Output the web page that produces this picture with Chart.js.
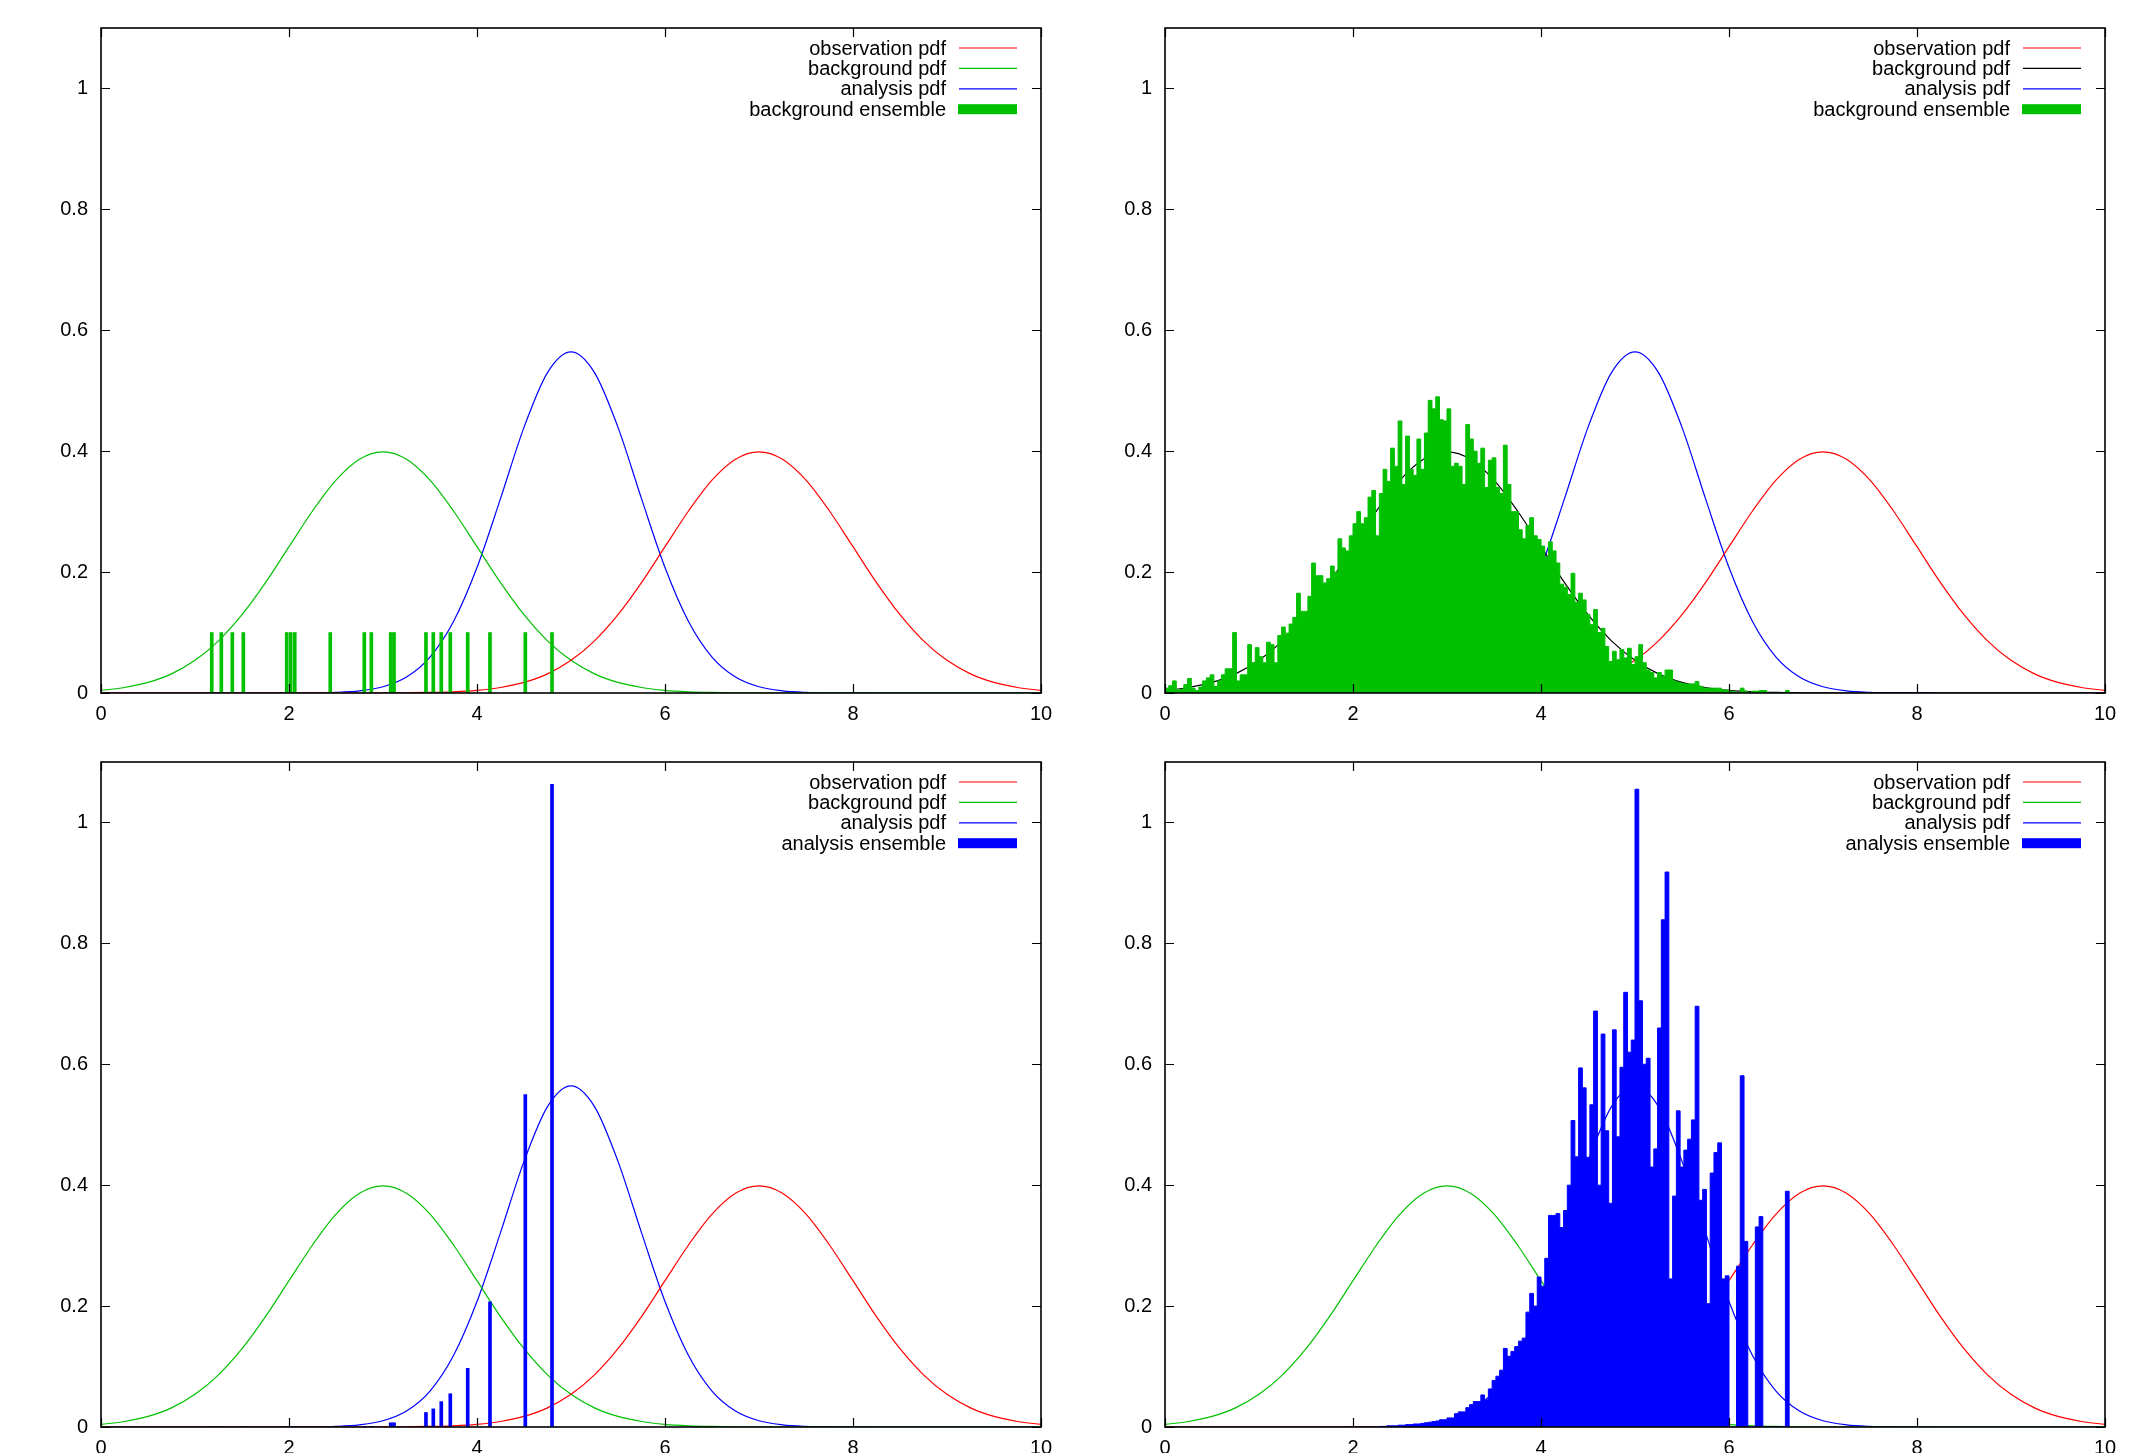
<!DOCTYPE html>
<html>
<head>
<meta charset="utf-8">
<title>Particle filter: background and analysis ensembles</title>
<script src="https://cdn.jsdelivr.net/npm/chart.js@4.4.1/dist/chart.umd.min.js"></script>
<style>
    html, body { margin: 0; padding: 0; background: #fff; overflow: hidden; }
    body { width: 2139px; height: 1453px; position: relative; }
    canvas { position: absolute; }
</style>
</head>
<body>
<canvas id="bgFew" width="1069" height="730" style="left:0;top:0"></canvas>
<canvas id="bgMany" width="1069" height="730" style="left:1064px;top:0"></canvas>
<canvas id="anaFew" width="1069" height="730" style="left:0;top:734px"></canvas>
<canvas id="anaMany" width="1069" height="730" style="left:1064px;top:734px"></canvas>
<script>
// Sample grid for the three pdf curves
const pdfX = [0, 0.25, 0.5, 0.75, 1, 1.25, 1.5, 1.75, 2, 2.25, 2.5, 2.75, 3, 3.25, 3.5, 3.75, 4,
    4.25, 4.5, 4.75, 5, 5.25, 5.5, 5.75, 6, 6.25, 6.5, 6.75, 7, 7.25, 7.5, 7.75, 8,
    8.25, 8.5, 8.75, 9, 9.25, 9.5, 9.75, 10];

const observationPdf = [0, 0, 0, 0, 0, 0, 0, 0, 0, 0, 0, 0,
    0.0001, 0.0004, 0.0009, 0.0020, 0.0044, 0.0091, 0.0175, 0.0317, 0.0540, 0.0863, 0.1295, 0.1826,
    0.2420, 0.3011, 0.3521, 0.3867, 0.3989, 0.3867, 0.3521, 0.3011, 0.2420, 0.1826, 0.1295, 0.0863,
    0.0540, 0.0317, 0.0175, 0.0091, 0.0044];

const backgroundPdf = [0.0044, 0.0091, 0.0175, 0.0317, 0.0540, 0.0863, 0.1295, 0.1826, 0.2420,
    0.3011, 0.3521, 0.3867, 0.3989, 0.3867, 0.3521, 0.3011, 0.2420, 0.1826, 0.1295, 0.0863, 0.0540,
    0.0317, 0.0175, 0.0091, 0.0044, 0.0020, 0.0009, 0.0004, 0.0001,
    0, 0, 0, 0, 0, 0, 0, 0, 0, 0, 0, 0];

const analysisPdf = [0, 0, 0, 0, 0, 0, 0, 0,
    0.0001, 0.0003, 0.0011, 0.0036, 0.0103, 0.0264, 0.0595, 0.1183, 0.2076, 0.3215, 0.4394, 0.5300,
    0.5642, 0.5300, 0.4394, 0.3215, 0.2076, 0.1183, 0.0595, 0.0264, 0.0103, 0.0036, 0.0011, 0.0003,
    0.0001, 0, 0, 0, 0, 0, 0, 0, 0];

// Small ensemble: member positions, prior weights and posterior weights
const memberX = [1.178, 1.280, 1.397, 1.514, 1.976, 2.018, 2.061, 2.439, 2.801, 2.876,
    3.082, 3.117, 3.457, 3.535, 3.620, 3.716, 3.901, 4.138, 4.514, 4.798];
const memberPrior = [0.1, 0.1, 0.1, 0.1, 0.1, 0.1, 0.1, 0.1, 0.1, 0.1,
    0.1, 0.1, 0.1, 0.1, 0.1, 0.1, 0.1, 0.1, 0.1, 0.1];
const memberPosterior = [0, 0, 0, 0, 0, 0, 0, 0, 0.001, 0.001,
    0.007, 0.007, 0.024, 0.030, 0.042, 0.055, 0.097, 0.207, 0.550, 1.063];

// Large ensemble histograms (bin width 0.04)
const histWidth = 0.04;
const bgHistStart = 0;
const bgHist = [
    0.008, 0.012, 0.020, 0.005, 0.006, 0.014, 0.024, 0.008, 0.004, 0.010,
    0.020, 0.025, 0.030, 0.011, 0.020, 0.030, 0.040, 0.040, 0.100, 0.020,
    0.030, 0.030, 0.080, 0.050, 0.075, 0.060, 0.050, 0.084, 0.080, 0.050,
    0.095, 0.109, 0.099, 0.114, 0.125, 0.165, 0.135, 0.135, 0.160, 0.215,
    0.194, 0.194, 0.182, 0.189, 0.210, 0.200, 0.255, 0.240, 0.235, 0.260,
    0.280, 0.300, 0.280, 0.290, 0.324, 0.335, 0.260, 0.330, 0.370, 0.350,
    0.405, 0.375, 0.450, 0.345, 0.425, 0.370, 0.360, 0.420, 0.370, 0.430,
    0.484, 0.470, 0.490, 0.452, 0.450, 0.470, 0.375, 0.380, 0.375, 0.345,
    0.444, 0.420, 0.400, 0.380, 0.405, 0.340, 0.385, 0.389, 0.340, 0.330,
    0.410, 0.345, 0.300, 0.300, 0.270, 0.255, 0.277, 0.290, 0.260, 0.254,
    0.243, 0.225, 0.250, 0.235, 0.215, 0.180, 0.175, 0.163, 0.198, 0.150,
    0.165, 0.154, 0.130, 0.113, 0.138, 0.100, 0.107, 0.077, 0.052, 0.069,
    0.055, 0.072, 0.058, 0.074, 0.047, 0.060, 0.080, 0.050, 0.038, 0.034,
    0.025, 0.034, 0.028, 0.038, 0.038, 0.020, 0.018, 0.016, 0.015, 0.015,
    0.015, 0.019, 0.011, 0.008, 0.008, 0.008, 0.008, 0.008, 0.005, 0.005,
    0.003, 0.002, 0.000, 0.008, 0.003, 0.000, 0.003, 0.003, 0.004, 0.004,
    0, 0, 0, 0, 0, 0.004
];

const anaHistStart = 2.28;
const anaHist = [
    0.001, 0.001, 0.002, 0.002, 0.002, 0.003, 0.003, 0.004, 0.004, 0.005,
    0.005, 0.006, 0.007, 0.008, 0.009, 0.010, 0.012, 0.012, 0.015, 0.015,
    0.022, 0.025, 0.025, 0.032, 0.037, 0.042, 0.042, 0.053, 0.045, 0.063,
    0.077, 0.084, 0.094, 0.130, 0.117, 0.125, 0.133, 0.142, 0.147, 0.190,
    0.221, 0.200, 0.248, 0.233, 0.279, 0.350, 0.350, 0.353, 0.330, 0.358,
    0.400, 0.507, 0.447, 0.594, 0.561, 0.446, 0.533, 0.688, 0.400, 0.650,
    0.490, 0.370, 0.657, 0.480, 0.595, 0.719, 0.620, 0.640, 1.055, 0.705,
    0.600, 0.610, 0.430, 0.460, 0.660, 0.839, 0.918, 0.245, 0.382, 0.523,
    0.430, 0.458, 0.476, 0.508, 0.696, 0.375, 0.393, 0.204, 0.420, 0.454,
    0.470, 0.245, 0.250, 0, 0, 0.266, 0.581, 0.307, 0, 0,
    0.331, 0.348, 0, 0, 0, 0, 0, 0, 0.390
];

const xTicks = { min: 0, max: 10, step: 2 };
const yTicks = { min: 0, max: 1.1, step: 0.2 };

const RED = '#ff0000';
const GREEN = '#00c000';
const BLUE = '#0000ff';
const BLACK = '#000000';
const FONT = '"Liberation Sans", Arial, sans-serif';
const FONT_SIZE = 20;

class PanelManager {
    constructor() {
        this.charts = {};
    }

    /**
     * Frame with inward ticks on all four sides, plus the key in the top right corner
     */
    framePlugin(keyItems) {
        return {
            id: 'gnuFrame',
            afterDraw(chart) {
                const { ctx, chartArea: a, scales } = chart;
                const tick = 9;
                ctx.save();
                ctx.strokeStyle = '#000';
                ctx.lineWidth = 1.2;
                ctx.beginPath();
                scales.x.ticks.forEach(t => {
                    const px = Math.round(scales.x.getPixelForValue(t.value)) + 0.5;
                    ctx.moveTo(px, a.bottom); ctx.lineTo(px, a.bottom - tick);
                    ctx.moveTo(px, a.top); ctx.lineTo(px, a.top + tick);
                });
                scales.y.ticks.forEach(t => {
                    const py = Math.round(scales.y.getPixelForValue(t.value)) + 0.5;
                    ctx.moveTo(a.left, py); ctx.lineTo(a.left + tick, py);
                    ctx.moveTo(a.right, py); ctx.lineTo(a.right - tick, py);
                });
                ctx.stroke();
                ctx.lineWidth = 1.6;
                ctx.strokeRect(a.left, a.top, a.right - a.left, a.bottom - a.top);

                // key
                ctx.font = FONT_SIZE + 'px ' + FONT;
                ctx.textAlign = 'right';
                ctx.textBaseline = 'middle';
                keyItems.forEach((item, i) => {
                    const yy = a.top + 20 + i * 20.4;
                    ctx.fillStyle = '#000';
                    ctx.fillText(item.label, a.right - 95, yy + 1);
                    if (item.box) {
                        ctx.fillStyle = item.color;
                        ctx.fillRect(a.right - 83, yy - 5, 59, 10);
                    } else {
                        ctx.strokeStyle = item.color;
                        ctx.lineWidth = 1.2;
                        ctx.beginPath();
                        ctx.moveTo(a.right - 82, yy);
                        ctx.lineTo(a.right - 24, yy);
                        ctx.stroke();
                    }
                });
                ctx.restore();
            }
        };
    }

    curveDataset(label, values, color, order) {
        return {
            type: 'line',
            label: label,
            data: pdfX.map((x, i) => ({ x: x, y: values[i] })),
            borderColor: color,
            borderWidth: 1.2,
            pointRadius: 0,
            fill: false,
            cubicInterpolationMode: 'monotone',
            order: order
        };
    }

    spikeDataset(label, xs, heights, color) {
        return {
            type: 'bar',
            label: label,
            data: xs.map((x, i) => ({ x: x, y: heights[i] })),
            backgroundColor: color,
            borderWidth: 0,
            barThickness: 3,
            grouped: false,
            order: 0
        };
    }

    histDataset(label, start, heights, color) {
        const pts = heights.map((h, i) => ({ x: +(start + i * histWidth).toFixed(3), y: h }));
        pts.push({ x: +(start + heights.length * histWidth).toFixed(3), y: 0 });
        return {
            type: 'line',
            label: label,
            data: pts,
            stepped: true,
            borderColor: color,
            borderWidth: 1,
            backgroundColor: color,
            fill: 'origin',
            pointRadius: 0,
            order: 0
        };
    }

    /**
     * One panel: three pdf curves plus the ensemble drawn on top
     */
    createPanel(canvasId, bgColor, ensemble, keyItems) {
        const ctx = document.getElementById(canvasId);
        if (!ctx) return;

        const datasets = [
            ensemble,
            this.curveDataset('observation pdf', observationPdf, RED, 1),
            this.curveDataset('background pdf', backgroundPdf, bgColor, 2),
            this.curveDataset('analysis pdf', analysisPdf, BLUE, 3)
        ];

        this.charts[canvasId] = new Chart(ctx, {
            type: 'line',
            data: { datasets: datasets },
            options: {
                responsive: false,
                animation: false,
                devicePixelRatio: 1,
                layout: { padding: { top: 28, right: 28, left: 0, bottom: 0 } },
                plugins: {
                    legend: { display: false },
                    tooltip: { enabled: false }
                },
                scales: {
                    x: {
                        type: 'linear',
                        min: xTicks.min,
                        max: xTicks.max,
                        offset: false,
                        grid: { display: false, drawTicks: false, offset: false },
                        border: { display: false },
                        ticks: {
                            stepSize: xTicks.step,
                            padding: 9,
                            maxRotation: 0,
                            color: '#000',
                            font: { family: FONT, size: FONT_SIZE }
                        },
                        afterFit: s => { s.height = 37; }
                    },
                    y: {
                        type: 'linear',
                        min: yTicks.min,
                        max: yTicks.max,
                        grid: { display: false, drawTicks: false },
                        border: { display: false },
                        ticks: {
                            stepSize: yTicks.step,
                            includeBounds: false,
                            padding: 13,
                            color: '#000',
                            font: { family: FONT, size: FONT_SIZE },
                            callback: v => String(Math.round(v * 10) / 10)
                        },
                        afterFit: s => { s.width = 101; }
                    }
                }
            },
            plugins: [this.framePlugin(keyItems)]
        });
    }
}

const panels = new PanelManager();

const pdfKey = (bgColor) => [
    { label: 'observation pdf', color: RED },
    { label: 'background pdf', color: bgColor },
    { label: 'analysis pdf', color: BLUE }
];

panels.createPanel('bgFew', GREEN,
    panels.spikeDataset('background ensemble', memberX, memberPrior, GREEN),
    pdfKey(GREEN).concat([{ label: 'background ensemble', color: GREEN, box: true }]));

panels.createPanel('bgMany', BLACK,
    panels.histDataset('background ensemble', bgHistStart, bgHist, GREEN),
    pdfKey(BLACK).concat([{ label: 'background ensemble', color: GREEN, box: true }]));

panels.createPanel('anaFew', GREEN,
    panels.spikeDataset('analysis ensemble', memberX, memberPosterior, BLUE),
    pdfKey(GREEN).concat([{ label: 'analysis ensemble', color: BLUE, box: true }]));

panels.createPanel('anaMany', GREEN,
    panels.histDataset('analysis ensemble', anaHistStart, anaHist, BLUE),
    pdfKey(GREEN).concat([{ label: 'analysis ensemble', color: BLUE, box: true }]));
</script>
</body>
</html>
